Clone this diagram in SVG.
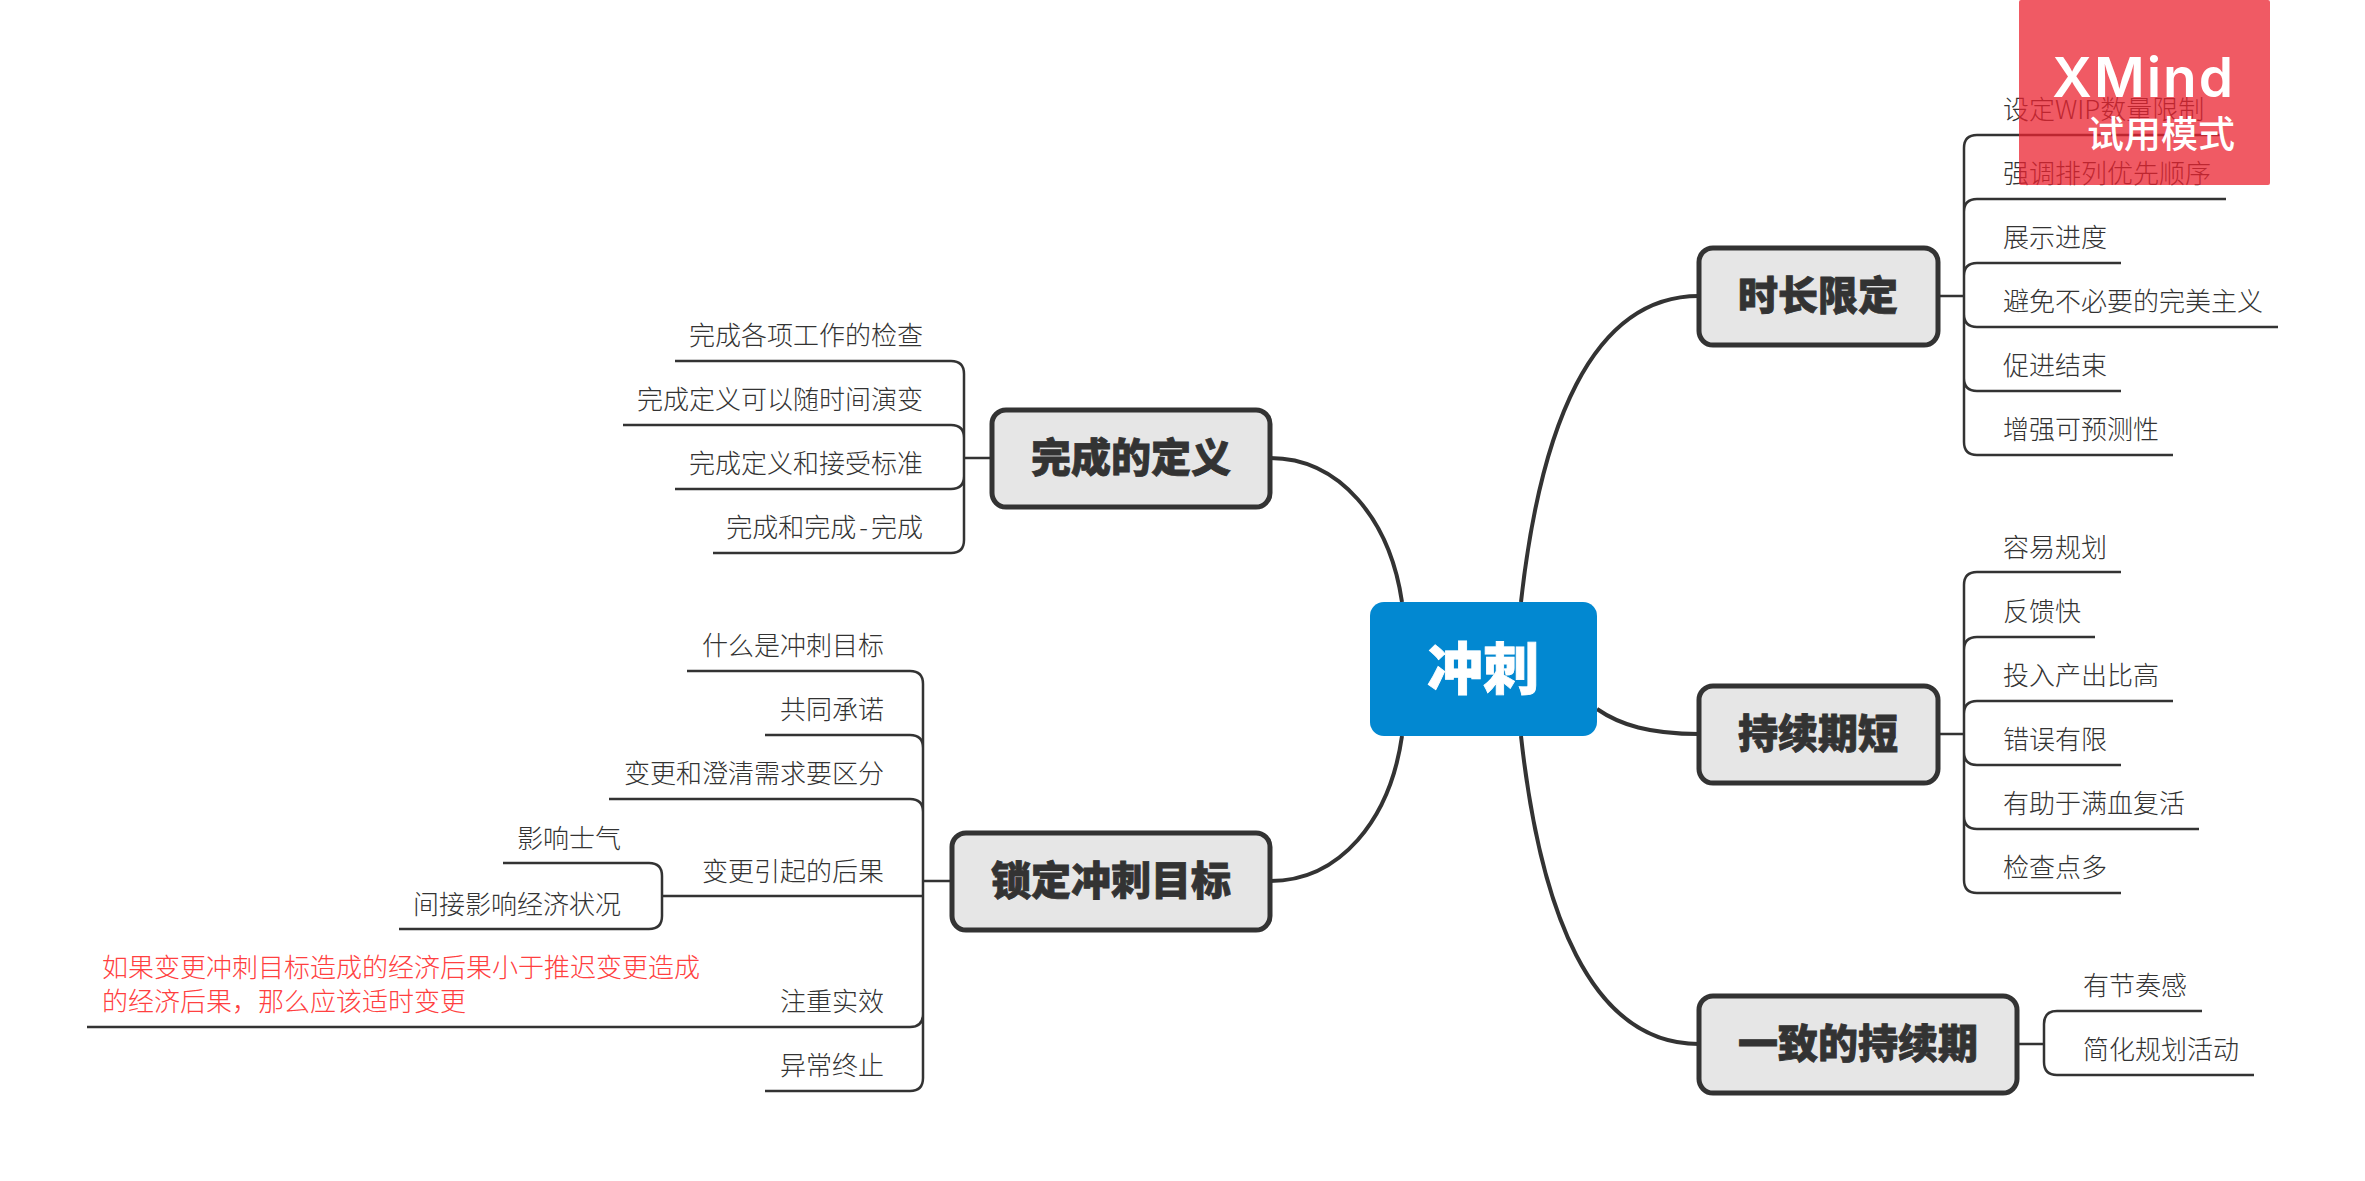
<svg xmlns="http://www.w3.org/2000/svg" width="2365" height="1181" viewBox="0 0 2365 1181">
<style>
text{font-family:"Noto Sans CJK SC","Noto Sans",sans-serif;fill:#333}
.t{font-size:26px;font-weight:300}
.e{text-anchor:end}
.h{font-size:40px;font-weight:900;text-anchor:middle;stroke:#333;stroke-width:.8px}
.b{fill:#e6e6e6;stroke:#333;stroke-width:5}
.c{fill:none;stroke:#333;stroke-width:4}
.s{fill:none;stroke:#333;stroke-width:2.5}
.r{fill:#ff4040}
</style>
<rect width="2365" height="1181" fill="#fff"/>
<g id="connectors">
<path class="c" d="M1521,602C1540,430 1590,296 1699,296"/>
<path class="c" d="M1597,709C1620,725 1650,734 1699,734"/>
<path class="c" d="M1521,736C1540,910 1590,1044 1699,1044"/>
<path class="c" d="M1402,602C1390,520 1340,458 1270,458"/>
<path class="c" d="M1402,736C1390,820 1340,881 1270,881"/>
<path class="s" d="M1938,296H1964M1964,148V442Q1964,455 1977,455H2173M1964,148Q1964,135 1977,135H2222M1964,212Q1964,199 1977,199H2226M1964,276Q1964,263 1977,263H2121M1964,314Q1964,327 1977,327H2278M1964,378Q1964,391 1977,391H2121"/>
<path class="s" d="M1938,734H1964M1964,585V880Q1964,893 1977,893H2121M1964,585Q1964,572 1977,572H2121M1964,650Q1964,637 1977,637H2095M1964,714Q1964,701 1977,701H2173M1964,752Q1964,765 1977,765H2121M1964,816Q1964,829 1977,829H2199"/>
<path class="s" d="M2017,1044H2044M2044,1024V1062Q2044,1075 2057,1075H2254M2044,1024Q2044,1011 2057,1011H2202"/>
<path class="s" d="M992,458H964M964,374V540Q964,553 951,553H713M964,374Q964,361 951,361H675M964,438Q964,425 951,425H623M964,476Q964,489 951,489H675"/>
<path class="s" d="M951,881H923M923,684V1078Q923,1091 910,1091H765M923,684Q923,671 910,671H687M923,748Q923,735 910,735H765M923,812Q923,799 910,799H609M923,1014Q923,1027 910,1027H87M923,896H662M662,876V916Q662,929 649,929H399M662,876Q662,863 649,863H503"/>
</g>
<g id="root"><rect x="1370" y="602" width="227" height="134" rx="14" fill="#0288d1"/><text x="1483" y="689" font-size="56" font-weight="900" text-anchor="middle" stroke="#fff" stroke-width=".8" style="fill:#fff">冲刺</text></g>
<g id="n1"><rect class="b" x="1699" y="248" width="239" height="97" rx="14"/><text class="h" x="1818" y="310">时长限定</text></g>
<g id="n2"><rect class="b" x="1699" y="686" width="239" height="97" rx="14"/><text class="h" x="1818" y="748">持续期短</text></g>
<g id="n3"><rect class="b" x="1699" y="996" width="318" height="97" rx="14"/><text class="h" x="1858" y="1058">一致的持续期</text></g>
<g id="n4"><rect class="b" x="992" y="410" width="278" height="97" rx="14"/><text class="h" x="1131" y="472">完成的定义</text></g>
<g id="n5"><rect class="b" x="952" y="833" width="318" height="97" rx="14"/><text class="h" x="1111" y="895">锁定冲刺目标</text></g>
<g id="n1-leaves" transform="translate(0,1)">
<text class="t" x="2003" y="118">设定WIP数量限制</text>
<text class="t" x="2003" y="182">强调排列优先顺序</text>
<text class="t" x="2003" y="246">展示进度</text>
<text class="t" x="2003" y="310">避免不必要的完美主义</text>
<text class="t" x="2003" y="374">促进结束</text>
<text class="t" x="2003" y="438">增强可预测性</text>
</g>
<g id="n2-leaves" transform="translate(0,1)">
<text class="t" x="2003" y="556">容易规划</text>
<text class="t" x="2003" y="620">反馈快</text>
<text class="t" x="2003" y="684">投入产出比高</text>
<text class="t" x="2003" y="748">错误有限</text>
<text class="t" x="2003" y="812">有助于满血复活</text>
<text class="t" x="2003" y="876">检查点多</text>
</g>
<g id="n3-leaves" transform="translate(0,1)">
<text class="t" x="2083" y="994">有节奏感</text>
<text class="t" x="2083" y="1058">简化规划活动</text>
</g>
<g id="n4-leaves" transform="translate(0,1)">
<text class="t e" x="923" y="344">完成各项工作的检查</text>
<text class="t e" x="923" y="408">完成定义可以随时间演变</text>
<text class="t e" x="923" y="472">完成定义和接受标准</text>
<text class="t e" x="923" y="536">完成和完<tspan style="letter-spacing:3px">成-</tspan>完成</text>
</g>
<g id="n5-leaves" transform="translate(0,1)">
<text class="t e" x="884" y="654">什么是冲刺目标</text>
<text class="t e" x="884" y="718">共同承诺</text>
<text class="t e" x="884" y="782">变更和澄清需求要区分</text>
<text class="t e" x="884" y="880">变更引起的后果</text>
<text class="t e" x="621" y="847">影响士气</text>
<text class="t e" x="621" y="913">间接影响经济状况</text>
<text class="t e" x="884" y="1010">注重实效</text>
<text class="t e" x="884" y="1074">异常终止</text>
<text class="t r" x="102" y="976">如果变更冲刺目标造成的经济后果小于推迟变更造成</text>
<text class="t r" x="102" y="1010">的经济后果&#65292;那么应该适时变更</text>
</g>
<g id="watermark"><rect x="2019" y="0" width="251" height="185" rx="2" fill="#eb2330" opacity=".75"/>
<text x="2235" y="97" font-size="55" font-weight="600" letter-spacing="2" text-anchor="end" style="font-family:Inter,sans-serif;fill:#fff">XMind</text>
<text x="2235" y="148" font-size="37" font-weight="500" text-anchor="end" style="fill:#fff">试用模式</text></g>
</svg>
